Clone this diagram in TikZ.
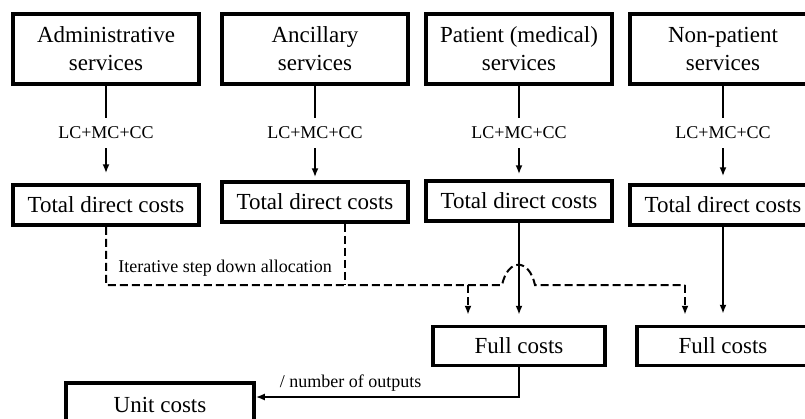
\documentclass[tikz,border=0pt]{standalone}
\usepackage{fontspec}
\setmainfont{Liberation Serif}
\usetikzlibrary{arrows.meta,positioning}

\begin{document}
\begin{tikzpicture}[
                    x=1pt, y=-1pt,
                    box style/.style={
                        draw,
                        line width=3.5pt,
                        fill=white,
                        align=center,
                        inner sep=0pt,
                        font=\fontsize{23}{28}\selectfont
                    },
                    service/.style={box style, minimum width=186pt, minimum height=70pt},
                    direct/.style={box style, minimum width=186pt, minimum height=40pt},
                    full/.style={box style, minimum width=172pt, minimum height=39pt},
                    cost label/.style={font=\fontsize{18}{20}\selectfont, inner sep=0pt},
                    sum label/.style={cost label, minimum height=30pt},
                    link/.style={line width=2pt},
                    arrow/.style={link, -{Latex[length=9pt,width=7pt]}},
                    alloc/.style={line width=2pt, dash pattern=on 8pt off 4pt}
                ]
    \useasboundingbox (0,0) rectangle (805,418);

    % service boxes
    \node[service] (admin)   at (106,49) {Administrative\\services};
    \node[service] (ancil)   at (315,49) {Ancillary\\services};
    \node[service] (patient) at (519,49) {Patient (medical)\\services};
    \node[service] (nonpat)  at (723,49) {Non-patient\\services};

    % LC+MC+CC
    \node[sum label] (lcA) at (106,133) {LC+MC+CC};
    \node[sum label] (lcB) at (315,133) {LC+MC+CC};
    \node[sum label] (lcC) at (519,133) {LC+MC+CC};
    \node[sum label] (lcD) at (723,133) {LC+MC+CC};

    % total direct costs
    \node[direct] (tdcA) at (106,205) {Total direct costs};
    \node[direct] (tdcB) at (315,202) {Total direct costs};
    \node[direct] (tdcC) at (519,201) {Total direct costs};
    \node[direct] (tdcD) at (723,205) {Total direct costs};

    % full and unit costs
    \node[full] (fc1) at (519,346) {Full costs};
    \node[full] (fc2) at (723,346) {Full costs};
    \node[box style, minimum width=188pt, minimum height=44pt] (uc) at (160,405) {Unit costs};

    \draw[link] (admin.south) -- (lcA.north);
    \draw[link] (ancil.south) -- (lcB.north);
    \draw[link] (patient.south) -- (lcC.north);
    \draw[link] (nonpat.south) -- (lcD.north);
    \draw[arrow, shorten >=10pt] (lcA.south) -- (tdcA.north);
    \draw[arrow, shorten >=3pt] (lcB.south) -- (tdcB.north);
    \draw[arrow, shorten >=5pt] (lcC.south) -- (tdcC.north);
    \draw[arrow, shorten >=7pt] (lcD.south) -- (tdcD.north);

    % step down allocation
    \coordinate (hopL) at (502,285);
    \coordinate (hopR) at (535,285);
    \coordinate (dropL) at (468,285);
    \coordinate (dropR) at (685,285);
    \coordinate (ancilOut) at ([xshift=30pt]tdcB.south);
    \draw[alloc] (tdcA.south) |- (hopL)
        .. controls +(6,-27) and +(-6,-27) .. (hopR) -- (dropR);
    \draw[alloc] (ancilOut) -- (ancilOut |- hopL);
    \draw[alloc, -{Latex[length=9pt,width=7pt]}, shorten >=10pt] (dropL) -- (dropL |- fc1.north);
    \draw[alloc, -{Latex[length=9pt,width=7pt]}, shorten >=10pt] (dropR) -- (dropR |- fc2.north);
    \node[cost label] (iter) at (225,268) {Iterative step down allocation};

    \draw[arrow, shorten >=10pt] (tdcC.south) -- (fc1.north);
    \draw[arrow, shorten >=11pt] (tdcD.south) -- (fc2.north);

    \draw[arrow] (fc1.south) |- node[cost label, pos=0.82, above=5pt] (outs) {/ number of outputs} ([yshift=8pt]uc.east);
\end{tikzpicture}
\end{document}
